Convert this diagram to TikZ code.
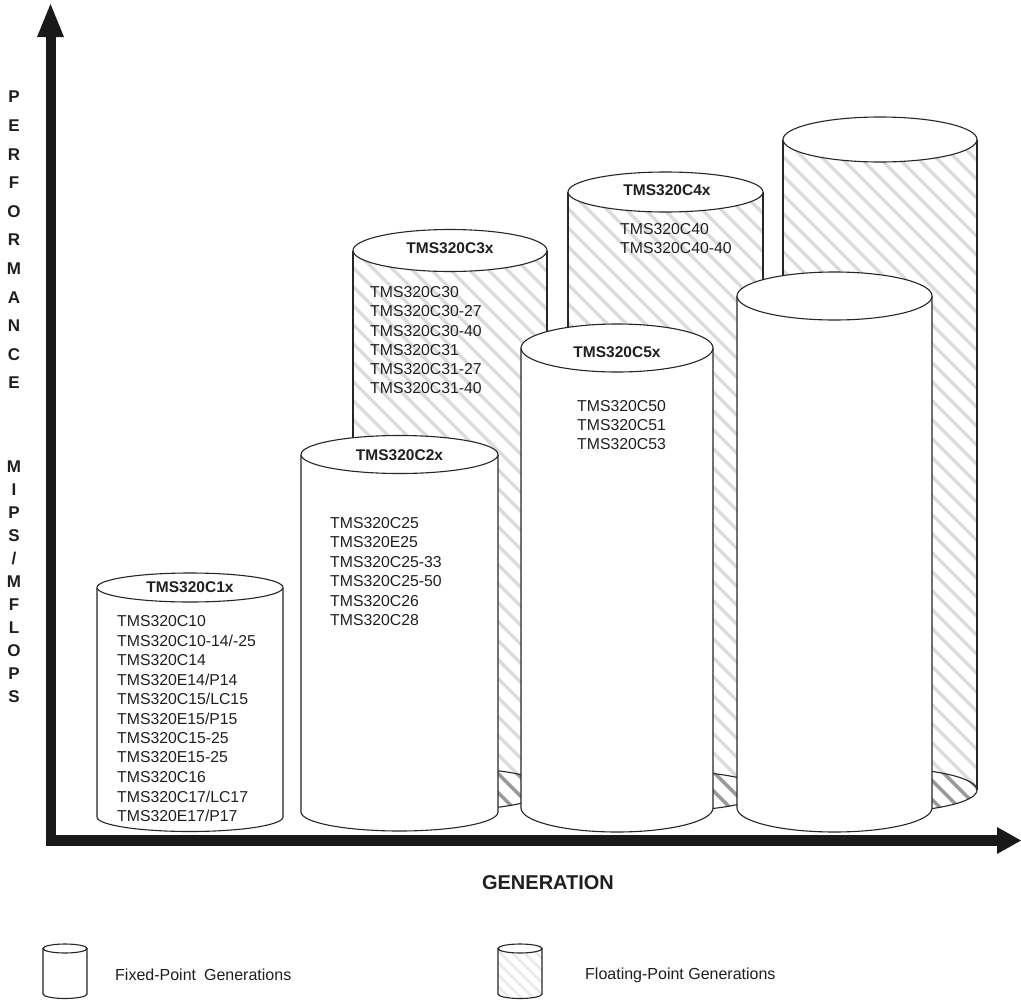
\documentclass[tikz,border=0pt]{standalone}
\usepackage{fontspec}
\setmainfont{Liberation Sans}
\tikzset{
  outline/.style={draw=black!85, line width=1.1pt},
  hatchlight/.style={draw=black!14, line width=3.5pt},
  hatchdark/.style={draw=black!40, line width=3.5pt},
  hatchfaint/.style={draw=black!8, line width=2.5pt},
  axisfill/.style={fill=black!90},
  item/.style={anchor=west, font=\fontsize{15.8}{18}\selectfont, text=black!88, inner sep=0pt},
  cyltitle/.style={font=\bfseries\fontsize{15.5}{18}\selectfont, text=black!88, inner sep=0pt},
  ylab/.style={font=\bfseries\fontsize{17}{18}\selectfont, text=black!88, inner sep=0pt},
  legendtext/.style={anchor=west, font=\fontsize{16}{18}\selectfont, text=black!88, inner sep=0pt},
}
% #1 cx, #2 rx, #3 top y, #4 top ry, #5 bottom y, #6 bottom ry  (pixel coords, y down)
\newcommand\hatchcyl[6]{%
  \begin{scope}
    \clip (#1-#2,-#3) -- (#1-#2,-#5) arc[start angle=180,end angle=360,x radius=#2,y radius=#6] -- (#1+#2,-#3) -- cycle;
    \foreach \k in {-45,...,8} \draw[hatchlight] ({#1+\k*19-50},{-#3+50}) -- ++(800,-800);
  \end{scope}
  \begin{scope}
    \clip (#1,-#5) ellipse[x radius=#2,y radius=#6];
    \foreach \k in {-45,...,8} \draw[hatchdark] ({#1+\k*19-50},{-#3+50}) -- ++(800,-800);
  \end{scope}
  \draw[outline] (#1-#2,-#3) -- (#1-#2,-#5) (#1+#2,-#3) -- (#1+#2,-#5);
  \draw[outline] (#1,-#5) ellipse[x radius=#2,y radius=#6];
  \draw[outline, fill=white] (#1,-#3) ellipse[x radius=#2,y radius=#4];
}
\newcommand\fixedcyl[6]{%
  \filldraw[outline, fill=white] (#1-#2,-#3) -- (#1-#2,-#5) arc[start angle=180,end angle=360,x radius=#2,y radius=#6] -- (#1+#2,-#3);
  \draw[outline, fill=white] (#1,-#3) ellipse[x radius=#2,y radius=#4];
}
\begin{document}
\begin{tikzpicture}[x=1pt,y=1pt]
\useasboundingbox (0,0) rectangle (1021,-1004);
\fill[white] (0,0) rectangle (1021,-1004);

% floating-point (hatched) cylinders, back
\hatchcyl{450}{97}{250.5}{21}{789}{21}
\hatchcyl{665.5}{97.5}{192}{20}{791}{20}
\hatchcyl{880}{97}{139.5}{22.5}{790}{22}

% fixed-point cylinders, front
\fixedcyl{190}{93}{587.5}{14.5}{817}{14.5}
\fixedcyl{399.5}{98.5}{454.5}{19}{812}{19}
\fixedcyl{617}{96}{348}{24}{808}{24}
\fixedcyl{834.5}{97.5}{296}{24}{808}{24}

% axes
\coordinate (origin) at (50.5,-840.5);
\coordinate (ytip) at (50.5,-4);
\coordinate (xtip) at (1021,-840.5);
\fill[axisfill] (45.5,-846) rectangle (55.5,-37);
\fill[axisfill] (37,-37) -- (ytip) -- (64,-37) -- cycle;
\fill[axisfill] (45.5,-835) rectangle (997,-846);
\fill[axisfill] (997,-827) -- (xtip) -- (997,-854) -- cycle;

% titles
\node[cyltitle] (t1) at (190,-587) {TMS320C1x};
\node[cyltitle] (t2) at (399.5,-455) {TMS320C2x};
\node[cyltitle] (t3) at (450,-248) {TMS320C3x};
\node[cyltitle] (t4) at (667,-190) {TMS320C4x};
\node[cyltitle] (t5) at (617,-352) {TMS320C5x};

% item lists
\foreach \t [count=\i] in {TMS320C10,TMS320C10-14/-25,TMS320C14,TMS320E14/P14,TMS320C15/LC15,TMS320E15/P15,TMS320C15-25,TMS320E15-25,TMS320C16,TMS320C17/LC17,TMS320E17/P17}
  \node[item] (a\i) at (117,{-621-(\i-1)*19.5}) {\t};
\foreach \t [count=\i] in {TMS320C25,TMS320E25,TMS320C25-33,TMS320C25-50,TMS320C26,TMS320C28}
  \node[item] (b\i) at (330,{-523-(\i-1)*19.5}) {\t};
\foreach \t [count=\i] in {TMS320C30,TMS320C30-27,TMS320C30-40,TMS320C31,TMS320C31-27,TMS320C31-40}
  \node[item] (c\i) at (370,{-292-(\i-1)*19.3}) {\t};
\foreach \t [count=\i] in {TMS320C40,TMS320C40-40}
  \node[item] (d\i) at (620,{-229-(\i-1)*19.5}) {\t};
\foreach \t [count=\i] in {TMS320C50,TMS320C51,TMS320C53}
  \node[item] (e\i) at (577,{-406-(\i-1)*19.2}) {\t};

% y axis label
\foreach \t [count=\i] in {P,E,R,F,O,R,M,A,N,C,E}
  \node[ylab] (p\i) at (14,{-97-(\i-1)*28.6}) {\t};
\foreach \t [count=\i] in {M,I,P,S,/,M,F,L,O,P,S}
  \node[ylab] (m\i) at (14,{-467-(\i-1)*23}) {\t};

% x axis label
\node[font=\bfseries\fontsize{20}{22}\selectfont, text=black!88, inner sep=0pt] (gen) at (548,-883) {GENERATION};

% legend
\fixedcyl{65}{22}{948.5}{4.5}{994}{4.5}
\begin{scope}
  \clip (498,-948.5) -- (498,-994) arc[start angle=180,end angle=360,x radius=22,y radius=4.5] -- (542,-948.5) -- cycle;
  \foreach \k in {-6,...,3} \draw[hatchfaint] ({520+\k*12-30},-918.5) -- ++(100,-100);
\end{scope}
\draw[outline] (498,-948.5) -- (498,-994) arc[start angle=180,end angle=360,x radius=22,y radius=4.5] -- (542,-948.5);
\draw[outline, fill=white] (520,-948.5) ellipse[x radius=22,y radius=4.5];
\node[legendtext] (l1) at (115,-975) {Fixed-Point\hspace{0.5em}Generations};
\node[legendtext] (l2) at (585,-975) {Floating-Point Generations};
\end{tikzpicture}
\end{document}
